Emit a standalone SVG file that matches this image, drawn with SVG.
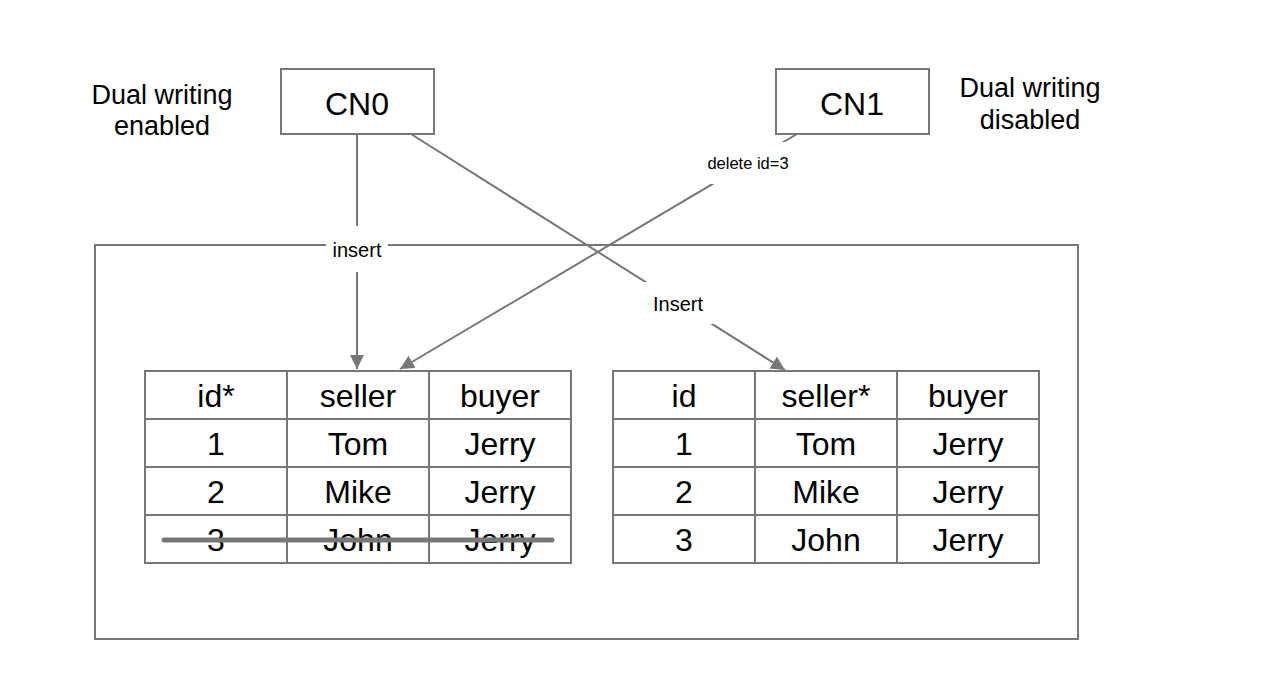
<svg xmlns="http://www.w3.org/2000/svg" width="1266" height="692" viewBox="0 0 1266 692">
<style>
.box{fill:#fff;stroke:#777;stroke-width:2}
.cell{fill:none;stroke:#777;stroke-width:2}
.conn{fill:none;stroke:#777;stroke-width:2}
.t{font-family:"Liberation Sans",Arial,sans-serif;fill:#000;text-anchor:middle}
.big{font-size:32px}
.node{font-size:32px}
.mid{font-size:27px}
.lbl{font-size:20px}
.sm{font-size:16.5px}
.bg{fill:#fff}
</style>
<defs>
<marker id="arr" markerUnits="userSpaceOnUse" markerWidth="16" markerHeight="16" refX="14" refY="7" orient="auto">
<path d="M0,0 L14,7 L0,14 z" fill="#777"/>
</marker>
</defs>
<rect width="1266" height="692" fill="#fff"/>
<g id="container">
<rect x="95" y="245" width="983" height="394" class="cell"/>
</g>
<g id="cn0">
<rect x="281" y="69" width="153" height="65" class="box"/>
<text x="357" y="115" class="t node">CN0</text>
</g>
<g id="cn1">
<rect x="776" y="69" width="153" height="65" class="box"/>
<text x="852" y="115" class="t node">CN1</text>
</g>
<g id="note-enabled">
<text x="162" y="104" class="t mid">Dual writing</text>
<text x="162" y="135" class="t mid">enabled</text>
</g>
<g id="note-disabled">
<text x="1030" y="97" class="t mid">Dual writing</text>
<text x="1030" y="129" class="t mid">disabled</text>
</g>
<g id="table-left">
<rect x="145" y="371" width="426" height="192" class="cell"/>
<path d="M287,371V563M429,371V563M145,419H571M145,467H571M145,515H571" class="cell"/>
<text x="216" y="407" class="t big">id*</text>
<text x="358" y="407" class="t big">seller</text>
<text x="500" y="407" class="t big">buyer</text>
<text x="216" y="455" class="t big">1</text>
<text x="358" y="455" class="t big">Tom</text>
<text x="500" y="455" class="t big">Jerry</text>
<text x="216" y="503" class="t big">2</text>
<text x="358" y="503" class="t big">Mike</text>
<text x="500" y="503" class="t big">Jerry</text>
<text x="216" y="551" class="t big">3</text>
<text x="358" y="551" class="t big">John</text>
<text x="500" y="551" class="t big">Jerry</text>
<line x1="164" y1="540" x2="552" y2="540" stroke="#777" stroke-width="5" stroke-linecap="round"/>
</g>
<g id="table-right">
<rect x="613" y="371" width="426" height="192" class="cell"/>
<path d="M755,371V563M897,371V563M613,419H1039M613,467H1039M613,515H1039" class="cell"/>
<text x="684" y="407" class="t big">id</text>
<text x="826" y="407" class="t big">seller*</text>
<text x="968" y="407" class="t big">buyer</text>
<text x="684" y="455" class="t big">1</text>
<text x="826" y="455" class="t big">Tom</text>
<text x="968" y="455" class="t big">Jerry</text>
<text x="684" y="503" class="t big">2</text>
<text x="826" y="503" class="t big">Mike</text>
<text x="968" y="503" class="t big">Jerry</text>
<text x="684" y="551" class="t big">3</text>
<text x="826" y="551" class="t big">John</text>
<text x="968" y="551" class="t big">Jerry</text>
</g>
<g id="connectors">
<line x1="357" y1="134" x2="357" y2="369" class="conn" marker-end="url(#arr)"/>
<line x1="411" y1="134" x2="785" y2="370" class="conn" marker-end="url(#arr)"/>
<line x1="797" y1="134" x2="400" y2="369" class="conn" marker-end="url(#arr)"/>
<rect x="326" y="226" width="62" height="46" class="bg"/>
<text x="357" y="257" class="t lbl">insert</text>
<rect x="643" y="282" width="72" height="42" class="bg"/>
<text x="678" y="311" class="t lbl">Insert</text>
<rect x="699" y="142" width="98" height="42" class="bg"/>
<text x="748" y="169" class="t sm">delete id=3</text>
</g>
</svg>
